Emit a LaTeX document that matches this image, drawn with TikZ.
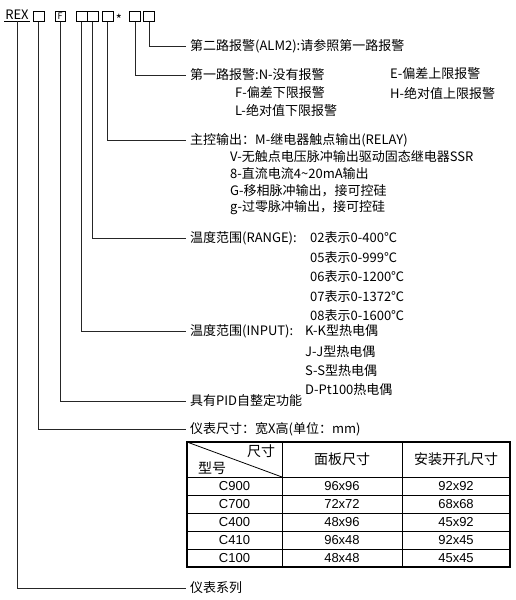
\documentclass[tikz,border=0pt]{standalone}
\usepackage{fontspec}
\setmainfont{Noto Sans CJK SC}
\newfontfamily\arialfont{Liberation Sans}
\tikzset{
  codebox/.style={draw,line width=0.9pt,minimum width=11pt,minimum height=10pt,inner sep=0pt},
  labeltext/.style={anchor=west,inner sep=0pt,font=\fontsize{13}{15}\selectfont},
  lead/.style={line width=0.8pt,draw=black!85,shorten >=4pt},
  cell/.style={inner sep=0pt,font=\arialfont\fontsize{13}{15}\selectfont},
  headcell/.style={inner sep=0pt,font=\fontsize{14}{16}\selectfont},
}
\begin{document}
\begin{tikzpicture}[x=1pt,y=-1pt]
  \useasboundingbox (0,0) rectangle (515,600);
  % model code
  \node[inner xsep=1pt,inner ysep=1pt,font=\fontsize{13}{15}\selectfont] (rex) at (17,15) {REX};
  \draw[line width=0.8pt] (rex.south west) -- (rex.south east);
  \node[codebox] (b1) at (38.5,16.5) {};
  \node[codebox,minimum width=10pt,font=\fontsize{9}{10}\selectfont] (bf) at (60,16.5) {F};
  \node[codebox] (b3) at (81.5,16.5) {};
  \node[codebox] (b4) at (92.5,16.5) {};
  \node[codebox] (b5) at (107.5,16.5) {};
  \node[inner sep=0pt,font=\fontsize{13}{15}\selectfont] (star) at (119,19) {*};
  \node[codebox] (b6) at (135,16.5) {};
  \node[codebox] (b7) at (149,16.5) {};
  % second alarm
  \node[labeltext] (alarm2) at (190,46) {第二路报警(ALM2):请参照第一路报警};
  % first alarm
  \node[labeltext] (alarm1) at (190,75) {第一路报警:N-没有报警};
  \node[labeltext] (alarmE) at (390,74) {E-偏差上限报警};
  \node[labeltext] (alarmF) at (235,93) {F-偏差下限报警};
  \node[labeltext] (alarmH) at (390,93) {H-绝对值上限报警};
  \node[labeltext] (alarmL) at (235,110) {L-绝对值下限报警};
  % main output
  \node[labeltext] (out) at (190,140) {主控输出：M-继电器触点输出(RELAY)};
  \node[labeltext] (outV) at (230,157) {V-无触点电压脉冲输出驱动固态继电器SSR};
  \node[labeltext] (out8) at (230,174) {8-直流电流4\textasciitilde20mA输出};
  \node[labeltext] (outG) at (230,191) {G-移相脉冲输出，接可控硅};
  \node[labeltext] (outg) at (230,208) {g-过零脉冲输出，接可控硅};
  % range
  \node[labeltext] (range) at (190,238) {温度范围(RANGE):};
  \foreach \code/\maxt/\yy in {02/400/238,05/999/258,06/1200/277,07/1372/297,08/1600/316}
    \node[labeltext] (range\code) at (310,\yy) {\code 表示0-\maxt ℃};
  % input
  \node[labeltext] (input) at (190,331) {温度范围(INPUT):};
  \node[labeltext] (inK) at (305,331) {K-K型热电偶};
  \node[labeltext] (inJ) at (305,352) {J-J型热电偶};
  \node[labeltext] (inS) at (305,371) {S-S型热电偶};
  \node[labeltext] (inD) at (305,390) {D-Pt100热电偶};
  % PID, size, series
  \node[labeltext] (pid) at (190,401) {具有PID自整定功能};
  \node[labeltext] (size) at (190,429) {仪表尺寸：宽X高(单位：mm)};
  \node[labeltext] (series) at (190,588) {仪表系列};
  % leaders
  \draw[lead] (b7.south) |- (alarm2.west);
  \draw[lead] (b6.south) |- (alarm1.west);
  \draw[lead] (b5.south) |- (out.west);
  \draw[lead] (b4.south) |- (range.west);
  \draw[lead] (b3.south) |- (input.west);
  \draw[lead] (bf.south) |- (pid.west);
  \draw[lead] (b1.south) |- (size.west);
  \draw[lead] (rex.south) |- (series.west);
  % size table
  \draw[line width=0.8pt] (187,442) -- (282,477);
  \foreach \yy in {477,495,513,531,549}
    \draw[line width=0.8pt] (187,\yy) -- (510,\yy);
  \foreach \xx in {282,402}
    \draw[line width=0.8pt] (\xx,442) -- (\xx,567);
  \draw[line width=1.3pt] (187,442) rectangle (510,567);
  \node[headcell] (hsize) at (261,451) {尺寸};
  \node[headcell] (hmodel) at (212,468) {型号};
  \node[headcell] (hpanel) at (342,459) {面板尺寸};
  \node[headcell] (hcut) at (456,459) {安装开孔尺寸};
  \foreach \model/\panel/\cut [count=\r] in {C900/96x96/92x92,C700/72x72/68x68,C400/48x96/45x92,C410/96x48/92x45,C100/48x48/45x45}{
    \node[cell] (model\r) at (234.5,468+18*\r) {\model};
    \node[cell] (panel\r) at (342,468+18*\r) {\panel};
    \node[cell] (cut\r) at (456,468+18*\r) {\cut};
  }
\end{tikzpicture}
\end{document}
